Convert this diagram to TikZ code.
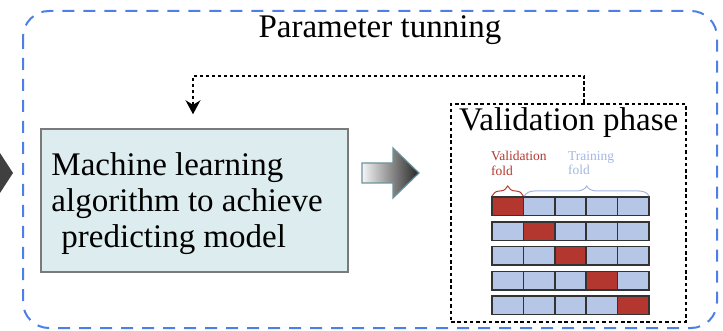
\documentclass[tikz,border=0pt]{standalone}
\usepackage{fontspec}
\setmainfont{Liberation Serif}
\usetikzlibrary{arrows.meta,decorations.pathreplacing,calc}
\definecolor{frameblue}{HTML}{4D7FE6}
\definecolor{boxfill}{HTML}{DDEDEF}
\definecolor{boxedge}{HTML}{7A7A7A}
\definecolor{foldred}{HTML}{B3372E}
\definecolor{foldblue}{HTML}{B5C6E6}
\definecolor{trainlabel}{HTML}{A3B6E2}
\definecolor{arrowedge}{HTML}{6A939C}
\begin{document}
\begin{tikzpicture}[x=1pt,y=-1pt,
  frame/.style={draw=frameblue,line width=2pt,dash pattern=on 12pt off 9pt,rounded corners=26pt},
  mlbox/.style={draw=boxedge,fill=boxfill,line width=1.5pt,minimum width=307pt,minimum height=143pt,inner sep=0pt},
  valbox/.style={draw=black,line width=2pt,dash pattern=on 3.5pt off 2.8pt,minimum width=235pt,minimum height=218pt,inner sep=0pt},
  feedback/.style={draw=black,line width=1.5pt,dash pattern=on 3.5pt off 2.5pt},
  cell/.style={draw=black!80,line width=1.5pt},
  bigtext/.style={font=\fontsize{33}{36}\selectfont,inner sep=0pt},
  smalltext/.style={font=\fontsize{13.5}{14.5}\selectfont,align=left,inner sep=0pt},
  foldbrace/.style={line width=1pt,decorate,decoration={brace,amplitude=10pt}}
]
\useasboundingbox (0,0) rectangle (723,331);

% outer dashed frame
\draw[frame] (23,11) rectangle (717,328);

% incoming arrow head at the left border
\fill[black!75] (0,153) -- (13,173) -- (0,193) -- cycle;

\node[bigtext,anchor=base] (title) at (380,38) {Parameter tunning};

% learning algorithm box and its text
\node[mlbox] (ml) at (194.5,200.5) {};
\node[bigtext,align=left,anchor=north west] (mltext) at ($(ml.north west)+(11,24)$)
  {Machine learning\\algorithm to achieve\\\hspace*{10pt}predicting model};

% block arrow towards validation
\shade[left color=gray!8,right color=black!85,draw=arrowedge,line width=1.2pt]
  (362,163) -- (393,163) -- (393,148) -- (419,173) -- (393,198) -- (393,183) -- (362,183) -- cycle;

% validation phase box
\node[valbox] (val) at (568.5,213) {};
\node[bigtext,anchor=base west] (valtitle) at (459,131) {Validation phase};

% feedback loop
\coordinate (fbstart) at ($(val.north)+(15.5,0)$);
\coordinate (fbend) at ($(ml.north)+(-1.5,-14)$);
\draw[feedback,-{Stealth[length=14pt,width=15pt]}] (fbstart) -- (fbstart |- 0,76) -- (fbend |- 0,76) -- (fbend);

% k-fold grid
\foreach \r in {0,...,4} {
  \foreach \c in {0,...,4} {
    \ifnum\r=\c \def\cc{foldred}\else\def\cc{foldblue}\fi
    \filldraw[cell,fill=\cc] ({492+31.4*\c},{197+24.8*\r}) rectangle ++(31.4,18.5);
  }
}

% fold braces and labels
\draw[foldbrace,foldred] (492,196) -- (523.4,196);
\draw[foldbrace,trainlabel] (524.4,196) -- (649,196);
\node[smalltext,text=foldred,anchor=north west] (vlab) at (491,151) {Validation\\fold};
\node[smalltext,text=trainlabel,anchor=north west] (tlab) at (568,151) {Training\\fold};
\end{tikzpicture}
\end{document}
